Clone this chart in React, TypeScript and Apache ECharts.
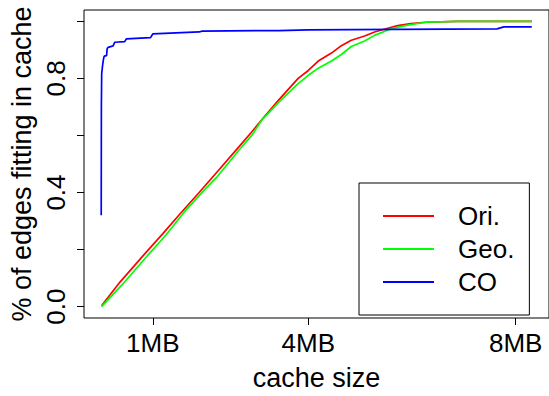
import React, { useEffect, useRef } from "react";
import * as echarts from "echarts";

// cache size in MB, fraction of edges fitting in cache
const oriX = [0.012, 0.363, 0.81, 1.19, 1.51, 1.894, 2.277, 2.66, 2.915, 3.106, 3.426, 3.804, 4.0, 4.191, 4.446, 4.637, 4.829, 5.085, 5.277, 5.531, 5.722, 5.977, 6.264, 6.87, 8.31];
const oriY = [0.003, 0.085, 0.178, 0.255, 0.322, 0.4, 0.48, 0.56, 0.614, 0.656, 0.724, 0.8, 0.828, 0.861, 0.889, 0.915, 0.934, 0.949, 0.963, 0.976, 0.985, 0.992, 0.997, 1.0, 1.0];

const geoX = [0.012, 0.4, 0.874, 1.25, 1.607, 2.0, 2.245, 2.66, 2.915, 3.106, 3.426, 3.804, 4.0, 4.191, 4.446, 4.637, 4.829, 5.085, 5.277, 5.595, 5.914, 6.264, 6.87, 8.31];
const geoY = [0.0, 0.075, 0.174, 0.25, 0.332, 0.41, 0.456, 0.548, 0.602, 0.655, 0.716, 0.782, 0.811, 0.836, 0.861, 0.884, 0.912, 0.931, 0.951, 0.974, 0.987, 0.997, 1.0, 1.0];

const coX = [0.005, 0.008, 0.014, 0.031, 0.051, 0.063, 0.108, 0.12, 0.139, 0.234, 0.267, 0.458, 0.49, 0.956, 1.0, 1.894, 1.95, 3.43, 4.0, 5.72, 7.64, 7.77, 8.31];
const coY = [0.32, 0.7, 0.816, 0.845, 0.87, 0.878, 0.88, 0.905, 0.909, 0.914, 0.927, 0.929, 0.939, 0.943, 0.956, 0.963, 0.966, 0.968, 0.97, 0.972, 0.974, 0.981, 0.981];

const xTicks = [1, 4, 8];
const yTicks = [0, 0.2, 0.4, 0.6, 0.8, 1.0];
const yLabels = [0, 0.4, 0.8];

const seriesNames = ["Ori.", "Geo.", "CO"];
const seriesColors = ["#ff0000", "#00ff00", "#0000ff"];

const FONT = '"Liberation Sans", Arial, Helvetica, sans-serif';

function zip(xs: number[], ys: number[]) {
  return xs.map((x, i) => [x, ys[i]]);
}

export default function App() {
  const ref = useRef<HTMLDivElement>(null);
  useEffect(() => {
    if (!ref.current) return;
    const chart = echarts.init(ref.current, undefined, { renderer: "svg" });
    const datas = [zip(oriX, oriY), zip(geoX, geoY), zip(coX, coY)];
    chart.setOption({
      animation: false,
      backgroundColor: "#ffffff",
      textStyle: { fontFamily: FONT },
      grid: {
        left: 84,
        top: 10,
        right: -3.5,
        bottom: 66,
        show: true,
        borderColor: "#000",
        borderWidth: 1,
        backgroundColor: "transparent",
      },
      xAxis: {
        type: "value",
        min: -0.327,
        max: 8.642,
        name: "cache size",
        nameLocation: "middle",
        nameGap: 46,
        nameTextStyle: { fontSize: 27, color: "#000", fontFamily: FONT },
        axisLine: { show: false, onZero: false },
        splitLine: { show: false },
        axisTick: {
          show: true,
          length: 7,
          customValues: xTicks,
          lineStyle: { color: "#000", width: 1 },
        },
        axisLabel: {
          customValues: xTicks,
          formatter: (v: number) => `${v}MB`,
          fontSize: 26,
          color: "#000",
          margin: 12,
          fontFamily: FONT,
        },
      },
      yAxis: {
        type: "value",
        min: -0.04,
        max: 1.04,
        name: "% of edges fitting in cache",
        nameLocation: "middle",
        nameGap: 46,
        nameRotate: 90,
        nameTextStyle: { fontSize: 27, color: "#000", fontFamily: FONT },
        axisLine: { show: false, onZero: false },
        splitLine: { show: false },
        axisTick: {
          show: true,
          length: 7,
          customValues: yTicks,
          lineStyle: { color: "#000", width: 1 },
        },
        axisLabel: {
          customValues: yLabels,
          formatter: (v: number) => v.toFixed(1),
          rotate: 90,
          align: "center",
          verticalAlign: "bottom",
          fontSize: 26,
          color: "#000",
          margin: 15,
          fontFamily: FONT,
        },
      },
      legend: {
        orient: "vertical",
        left: 359,
        top: 183,
        padding: [20, 15, 20, 24],
        itemWidth: 51,
        itemHeight: 2,
        itemGap: 7,
        icon: "rect",
        borderColor: "#000",
        borderWidth: 1,
        borderRadius: 0,
        backgroundColor: "#fff",
        data: seriesNames,
        textStyle: {
          fontSize: 26,
          lineHeight: 26,
          color: "#000",
          fontFamily: FONT,
          padding: [0, 0, 0, 19],
        },
      },
      series: seriesNames.map((name, i) => ({
        name,
        type: "line",
        data: datas[i],
        symbol: "none",
        showSymbol: false,
        lineStyle: { color: seriesColors[i], width: 1.7 },
        itemStyle: { color: seriesColors[i] },
        z: 2 + i,
      })),
    });
    return () => chart.dispose();
  }, []);
  return (
    <div
      ref={ref}
      style={{ position: "fixed", left: 0, top: 0, width: 549, height: 396 }}
    />
  );
}
